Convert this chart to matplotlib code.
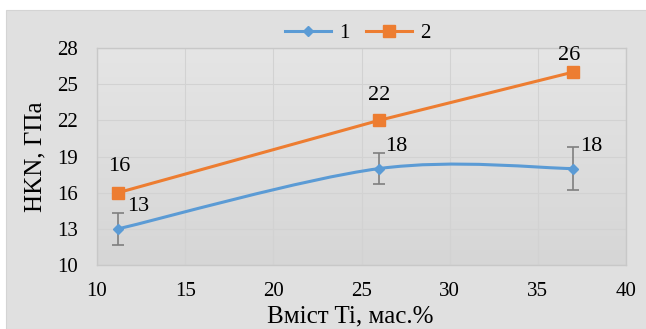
import numpy as np
import matplotlib
matplotlib.use('Agg')
import matplotlib.pyplot as plt
from matplotlib.path import Path
from matplotlib.patches import PathPatch, Rectangle
from matplotlib.lines import Line2D
from matplotlib.colors import LinearSegmentedColormap

plt.rcParams['font.family'] = ['Liberation Serif', 'DejaVu Serif']

# data
ti_content = [11.2, 26, 37]
hkn_1 = [13, 18, 18]
err_1 = [1.3, 1.3, 1.8]
hkn_2 = [16, 22, 26]
series_names = ['1', '2']

blue = '#5b9bd5'
orange = '#ed7d31'


def smooth_path(xs, ys):
    # excel-like smoothed line as cubic bezier segments
    pts = np.column_stack([xs, ys]).astype(float)
    n = len(pts)
    verts = [pts[0]]
    codes = [Path.MOVETO]
    for i in range(n - 1):
        p0 = pts[i - 1] if i > 0 else pts[i]
        p1 = pts[i]
        p2 = pts[i + 1]
        p3 = pts[i + 2] if i + 2 < n else pts[i + 1]
        c1 = p1 + (p2 - p0) / 6
        c2 = p2 - (p3 - p1) / 6
        verts += [c1, c2, p2]
        codes += [Path.CURVE4] * 3
    return Path(verts, codes)


fig = plt.figure(figsize=(6.46, 3.29), dpi=100, facecolor='white')
fig.patches.append(Rectangle((6 / 646, 0), 1, 1 - 10 / 329, transform=fig.transFigure,
                             facecolor='#e0e0e0', edgecolor='#d4d4d4', lw=0.8, zorder=-5))

ax = fig.add_axes([97 / 646, 64 / 329, 529 / 646, 217 / 329])
ax.set_zorder(2)
grad = LinearSegmentedColormap.from_list('g', ['#e5e5e5', '#d6d6d6'])
ax.imshow(np.linspace(0, 1, 256).reshape(-1, 1), cmap=grad, extent=[0, 1, 0, 1],
          transform=ax.transAxes, aspect='auto', zorder=0)

ax.add_patch(PathPatch(smooth_path(ti_content, hkn_1), facecolor='none',
                       edgecolor=blue, lw=2.2, zorder=3))
ax.errorbar(ti_content, hkn_1, yerr=err_1, fmt='none', ecolor='#7f7f7f',
            elinewidth=1.2, capsize=4, capthick=1.2, zorder=2)
ax.plot(ti_content, hkn_1, linestyle='none', marker='D', ms=5.5, color=blue, zorder=4)
ax.plot(ti_content, hkn_2, color=orange, lw=2.2, marker='s', ms=8, zorder=4)

ax.set_xlim(10, 40)
ax.set_ylim(10, 28)
ax.set_xticks(np.arange(10, 41, 5))
ax.set_yticks(np.arange(10, 29, 3))
ax.grid(True, color='#d2d2d2', lw=0.8, zorder=1)
ax.tick_params(length=0, labelsize=15, colors='black')
ax.tick_params(axis='x', pad=12)
ax.tick_params(axis='y', pad=13.5)
for s in ax.spines.values():
    s.set_color('#c8c8c8')
    s.set_linewidth(1)

ax.set_xlabel('Вміст Ti, мас.%', fontsize=18)
ax.xaxis.set_label_coords((350 - 97) / 529, -0.185)
ax.set_ylabel('HKN, ГПа', fontsize=18, labelpad=8)

offs_1 = [(20, 22), (17, 22), (18, 22)]
offs_2 = [(1, 26), (0, 25), (-4, 17)]
for x, y, o in zip(ti_content, hkn_1, offs_1):
    ax.annotate(str(y), (x, y), xytext=o, textcoords='offset pixels',
                ha='center', va='center', fontsize=16, zorder=5)
for x, y, o in zip(ti_content, hkn_2, offs_2):
    ax.annotate(str(y), (x, y), xytext=o, textcoords='offset pixels',
                ha='center', va='center', fontsize=16, zorder=5)

handles = [Line2D([], [], color=blue, lw=2.2, marker='D', ms=5.5),
           Line2D([], [], color=orange, lw=2.2, marker='s', ms=8)]
fig.legend(handles, series_names, loc='center', bbox_to_anchor=(358 / 646, 1 - 33 / 329),
           ncol=2, frameon=False, fontsize=15, handlelength=2.2, handletextpad=0.4,
           columnspacing=0.8)

fig.savefig('out.png', dpi=100, facecolor='white')
